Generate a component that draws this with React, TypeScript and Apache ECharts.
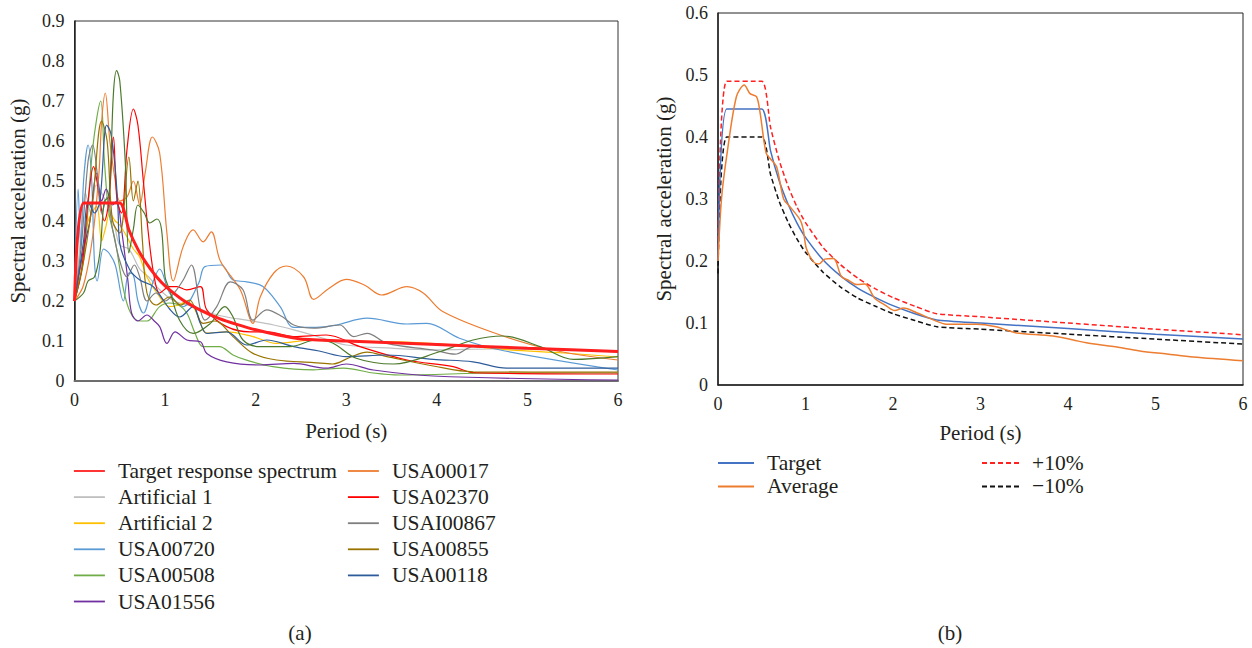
import React, { useEffect, useRef } from "react";
import * as echarts from "echarts";

// ---------- Data ----------
const PERIOD_TARGET = [0, 0.1, 0.5, 0.6, 0.7, 0.8, 0.9, 1.0, 1.2, 1.4, 1.6, 1.8, 2.0, 2.25, 2.5, 3, 4, 5, 6];
const SA_TARGET = [0.2, 0.445, 0.445, 0.378, 0.329, 0.292, 0.262, 0.238, 0.202, 0.176, 0.156, 0.141, 0.128, 0.115, 0.105, 0.1, 0.091, 0.082, 0.074];
const SA_PLUS10 = [0.22, 0.49, 0.49, 0.416, 0.362, 0.321, 0.288, 0.262, 0.222, 0.194, 0.172, 0.155, 0.141, 0.127, 0.115, 0.11, 0.1, 0.09, 0.081];
const SA_MINUS10 = [0.18, 0.4, 0.4, 0.34, 0.296, 0.263, 0.236, 0.214, 0.182, 0.158, 0.14, 0.127, 0.115, 0.104, 0.094, 0.09, 0.082, 0.074, 0.066];

const AVERAGE = [[0,0.2],[0.04,0.3],[0.1,0.37],[0.21,0.465],[0.3,0.484],[0.366,0.47],[0.44,0.465],[0.48,0.44],[0.55,0.374],[0.61,0.363],[0.67,0.352],[0.75,0.3],[0.82,0.288],[0.94,0.266],[0.975,0.25],[1.01,0.22],[1.09,0.199],[1.15,0.195],[1.22,0.203],[1.32,0.204],[1.41,0.175],[1.49,0.169],[1.585,0.162],[1.68,0.163],[1.79,0.14],[1.91,0.129],[2.02,0.12],[2.12,0.124],[2.27,0.1166],[2.46,0.105],[2.61,0.098],[2.96,0.098],[3.18,0.094],[3.3,0.0887],[3.41,0.084],[3.83,0.079],[4.06,0.0726],[4.21,0.068],[4.52,0.062],[4.82,0.055],[5.13,0.05],[5.43,0.045],[6,0.039]];

const ARTIFICIAL_1 = [[0,0.2],[0.07,0.36],[0.12,0.47],[0.18,0.42],[0.24,0.49],[0.3,0.47],[0.38,0.43],[0.45,0.38],[0.5,0.34],[0.6,0.33],[0.72,0.28],[0.82,0.26],[0.94,0.228],[1.1,0.2],[1.31,0.186],[1.5,0.17],[1.68,0.16],[1.9,0.152],[2.2,0.14],[2.42,0.128],[2.7,0.11],[3,0.09],[3.5,0.082],[4,0.078],[4.6,0.08],[5.2,0.079],[6,0.075]];
const ARTIFICIAL_2 = [[0,0.2],[0.08,0.3],[0.15,0.4],[0.245,0.436],[0.3,0.35],[0.34,0.38],[0.39,0.42],[0.45,0.4],[0.5,0.39],[0.58,0.36],[0.65,0.33],[0.72,0.31],[0.8,0.26],[0.91,0.22],[1.05,0.186],[1.15,0.19],[1.24,0.2],[1.35,0.17],[1.46,0.12],[1.68,0.123],[1.97,0.111],[2.23,0.094],[2.64,0.1025],[3,0.1],[3.59,0.098],[4.2,0.09],[4.8,0.078],[5.4,0.07],[6,0.06]];
const USA00720 = [[0,0.2],[0.04,0.48],[0.07,0.33],[0.1,0.5],[0.15,0.59],[0.19,0.5],[0.22,0.3],[0.25,0.25],[0.32,0.33],[0.38,0.32],[0.45,0.29],[0.54,0.2],[0.6,0.27],[0.65,0.265],[0.7,0.2],[0.76,0.17],[0.87,0.25],[0.94,0.28],[1.05,0.22],[1.2,0.186],[1.37,0.244],[1.44,0.286],[1.62,0.29],[1.75,0.2525],[1.9,0.248],[2.08,0.236],[2.27,0.186],[2.42,0.134],[2.67,0.134],[2.89,0.14],[3.23,0.157],[3.67,0.1425],[3.89,0.144],[4.25,0.107],[4.7,0.0775],[6,0.0275]];
const USA00508 = [[0,0.2],[0.1,0.3],[0.2,0.58],[0.29,0.7],[0.33,0.55],[0.38,0.42],[0.45,0.35],[0.54,0.23],[0.62,0.17],[0.72,0.15],[0.8,0.15],[0.94,0.186],[1.05,0.195],[1.15,0.19],[1.24,0.17],[1.33,0.12],[1.42,0.086],[1.6,0.086],[1.75,0.065],[1.9,0.052],[2.19,0.036],[2.64,0.028],[2.97,0.032],[3.3,0.02],[3.59,0.015],[4.7,0.02],[6,0.02]];
const USA01556 = [[0,0.2],[0.1,0.33],[0.17,0.4],[0.245,0.52],[0.3,0.45],[0.35,0.48],[0.42,0.44],[0.465,0.45],[0.52,0.378],[0.59,0.25],[0.63,0.17],[0.7,0.15],[0.8,0.165],[0.88,0.15],[0.94,0.136],[1.02,0.094],[1.11,0.123],[1.24,0.1025],[1.39,0.098],[1.46,0.069],[1.68,0.048],[2.05,0.04],[2.42,0.044],[2.78,0.032],[3,0.0425],[3.3,0.0275],[3.96,0.0125],[6,0.0025]];
const USA00017 = [[0,0.2],[0.1,0.24],[0.2,0.36],[0.27,0.52],[0.3,0.65],[0.34,0.72],[0.39,0.6],[0.45,0.5],[0.5,0.45],[0.58,0.46],[0.65,0.5],[0.72,0.44],[0.78,0.52],[0.86,0.61],[0.94,0.57],[1.02,0.37],[1.09,0.25],[1.2,0.336],[1.31,0.378],[1.42,0.348],[1.51,0.373],[1.61,0.3],[1.83,0.228],[1.97,0.144],[2.05,0.21],[2.2,0.27],[2.34,0.2875],[2.53,0.26],[2.64,0.204],[2.8,0.23],[3,0.254],[3.2,0.24],[3.39,0.215],[3.67,0.236],[3.85,0.22],[4.07,0.173],[4.7,0.115],[5.28,0.0775],[6,0.0525]];
const USA02370 = [[0,0.2],[0.08,0.28],[0.15,0.45],[0.21,0.536],[0.27,0.47],[0.33,0.4],[0.38,0.45],[0.43,0.61],[0.47,0.45],[0.52,0.42],[0.58,0.58],[0.65,0.68],[0.7,0.64],[0.76,0.5],[0.82,0.36],[0.88,0.26],[0.94,0.22],[1.05,0.236],[1.13,0.236],[1.24,0.228],[1.39,0.236],[1.46,0.178],[1.68,0.136],[1.94,0.123],[2.12,0.123],[2.42,0.111],[2.78,0.115],[3.15,0.086],[3.67,0.0525],[4.18,0.036],[4.4,0.021],[6,0.0175]];
const USAI00867 = [[0,0.2],[0.08,0.35],[0.15,0.55],[0.2,0.59],[0.25,0.52],[0.3,0.42],[0.36,0.46],[0.42,0.38],[0.5,0.3],[0.58,0.26],[0.66,0.29],[0.72,0.26],[0.8,0.2],[0.9,0.22],[1,0.2],[1.1,0.22],[1.2,0.2525],[1.29,0.29],[1.39,0.178],[1.44,0.152],[1.57,0.186],[1.72,0.248],[1.86,0.228],[1.97,0.152],[2.12,0.178],[2.3,0.16],[2.42,0.14],[2.64,0.132],[2.93,0.14],[3.08,0.111],[3.23,0.119],[3.45,0.094],[3.96,0.0775],[4.2,0.067],[4.4,0.086],[5.06,0.082],[6,0.073]];
const USA00855 = [[0,0.2],[0.1,0.3],[0.2,0.45],[0.3,0.65],[0.36,0.6],[0.42,0.4],[0.5,0.37],[0.6,0.56],[0.65,0.45],[0.7,0.5],[0.75,0.35],[0.8,0.22],[0.9,0.19],[1.05,0.21],[1.17,0.19],[1.27,0.2025],[1.42,0.144],[1.55,0.15],[1.75,0.111],[1.97,0.069],[2.23,0.0525],[2.64,0.046],[2.85,0.0425],[3.05,0.06],[3.23,0.072],[3.45,0.061],[3.96,0.0375],[4.4,0.023],[6,0.022]];
const USA00118 = [[0,0.2],[0.1,0.35],[0.15,0.45],[0.22,0.42],[0.28,0.45],[0.355,0.64],[0.4,0.62],[0.45,0.53],[0.48,0.43],[0.5,0.344],[0.61,0.278],[0.72,0.2525],[0.87,0.236],[1.05,0.18],[1.16,0.16],[1.31,0.186],[1.39,0.144],[1.46,0.119],[1.68,0.123],[1.9,0.09],[2.12,0.1025],[2.42,0.086],[2.7,0.075],[3,0.061],[3.45,0.065],[3.96,0.054],[4.4,0.048],[4.77,0.032],[6,0.032]];
const RECORD_12 = [[0,0.2],[0.1,0.22],[0.15,0.25],[0.22,0.26],[0.28,0.32],[0.33,0.45],[0.38,0.46],[0.43,0.72],[0.465,0.776],[0.5,0.75],[0.56,0.55],[0.6,0.32],[0.65,0.38],[0.7,0.44],[0.77,0.42],[0.83,0.395],[0.91,0.405],[0.96,0.38],[1,0.26],[1.05,0.228],[1.16,0.152],[1.31,0.119],[1.5,0.144],[1.66,0.186],[1.75,0.16],[1.86,0.1025],[2.05,0.086],[2.38,0.086],[2.67,0.1025],[2.85,0.095],[3.11,0.057],[3.52,0.0425],[4.03,0.073],[4.4,0.1025],[4.73,0.1125],[5.14,0.086],[5.51,0.054],[6,0.061]];

const LEGEND_COL1 = ["Target response spectrum", "Artificial 1", "Artificial 2", "USA00720", "USA00508", "USA01556"];
const LEGEND_COL2 = ["USA00017", "USA02370", "USAI00867", "USA00855", "USA00118"];

const FONT = "Liberation Serif";
const TXT = "#231f20";

const pair = (xs: number[], ys: number[]) => xs.map((x, i) => [x, ys[i]]);

export default function App() {
  const ref = useRef<HTMLDivElement>(null);
  useEffect(() => {
    if (!ref.current) return;
    const chart = echarts.init(ref.current, undefined, { renderer: "svg" });

    const rec = (name: string, data: number[][], color: string) => ({
      name,
      type: "line",
      xAxisIndex: 0,
      yAxisIndex: 0,
      data,
      symbol: "none",
      smooth: 0.35,
      lineStyle: { color, width: 1.2 },
      itemStyle: { color },
      z: 2,
    });

    const tickFmt = (v: number) => (v === 0 ? "0" : String(Math.round(v * 10) / 10));

    const axisLabel = { fontFamily: FONT, fontSize: 18, color: TXT, margin: 10 };
    const nameStyle = { fontFamily: FONT, fontSize: 21, color: TXT };

    const legendBase = {
      orient: "vertical",
      icon: "inherit",
      itemHeight: 14,
      padding: 0,
      itemStyle: { opacity: 0 },
      textStyle: { fontFamily: FONT, fontSize: 21.5, color: TXT, lineHeight: 20, padding: [0, 0, 0, 8] },
      selectedMode: false,
    };

    chart.setOption({
      animation: false,
      backgroundColor: "#fff",
      textStyle: { fontFamily: FONT },
      grid: [
        { left: 74.5, top: 21, width: 543.5, height: 360, show: true, borderColor: "#333", borderWidth: 1 },
        { left: 718, top: 13, width: 525, height: 372, show: true, borderColor: "#222", borderWidth: 1 },
      ],
      xAxis: [
        {
          gridIndex: 0, type: "value", min: 0, max: 6, interval: 1,
          axisLine: { lineStyle: { color: "#6d6d6d", width: 2 } }, axisTick: { show: false }, splitLine: { show: false },
          axisLabel, name: "Period (s)", nameLocation: "middle", nameGap: 39, nameTextStyle: nameStyle,
        },
        {
          gridIndex: 1, type: "value", min: 0, max: 6, interval: 1,
          axisLine: { lineStyle: { color: "#222", width: 1.5 } }, axisTick: { show: false }, splitLine: { show: false },
          axisLabel, name: "Period (s)", nameLocation: "middle", nameGap: 37, nameTextStyle: nameStyle,
        },
      ],
      yAxis: [
        {
          gridIndex: 0, type: "value", min: 0, max: 0.9, interval: 0.1,
          axisLine: { show: true, lineStyle: { color: "#222", width: 1.5 } }, axisTick: { show: false }, splitLine: { show: false },
          axisLabel: { ...axisLabel, formatter: tickFmt }, name: "Spectral acceleration (g)", nameLocation: "middle", nameGap: 46, nameTextStyle: nameStyle,
        },
        {
          gridIndex: 1, type: "value", min: 0, max: 0.6, interval: 0.1,
          axisLine: { show: true, lineStyle: { color: "#222", width: 1.5 } }, axisTick: { show: false }, splitLine: { show: false },
          axisLabel: { ...axisLabel, formatter: tickFmt }, name: "Spectral acceleration (g)", nameLocation: "middle", nameGap: 44, nameTextStyle: nameStyle,
        },
      ],
      legend: [
        { ...legendBase, left: 73, top: 460, itemWidth: 31, itemGap: 4.1, lineStyle: { width: 1.8 }, data: LEGEND_COL1 },
        { ...legendBase, left: 347, top: 460, itemWidth: 31, itemGap: 4.1, lineStyle: { width: 1.8 }, data: LEGEND_COL2 },
        { ...legendBase, left: 717, top: 452, itemWidth: 36, itemGap: 1.4, data: ["Target", "Average"] },
        { ...legendBase, left: 981, top: 452, itemWidth: 37, itemGap: 1.4, data: ["+10%", "\u221210%"] },
      ],
      graphic: [
        { type: "text", x: 300, y: 633, style: { text: "(a)", fontFamily: FONT, fontSize: 21, fill: TXT, align: "center", verticalAlign: "middle" } },
        { type: "text", x: 950, y: 633, style: { text: "(b)", fontFamily: FONT, fontSize: 21, fill: TXT, align: "center", verticalAlign: "middle" } },
      ],
      series: [
        rec("Artificial 1", ARTIFICIAL_1, "#bfbfbf"),
        rec("Artificial 2", ARTIFICIAL_2, "#ffc000"),
        rec("USA00720", USA00720, "#5b9bd5"),
        rec("USA00508", USA00508, "#70ad47"),
        rec("USA01556", USA01556, "#7030a0"),
        rec("USA00017", USA00017, "#ed7d31"),
        rec("USA02370", USA02370, "#ff0000"),
        rec("USAI00867", USAI00867, "#7f7f7f"),
        rec("USA00855", USA00855, "#997300"),
        rec("USA00118", USA00118, "#2e5c9a"),
        rec("Record 12", RECORD_12, "#4c7a2c"),
        {
          name: "Target response spectrum", type: "line", xAxisIndex: 0, yAxisIndex: 0,
          data: pair(PERIOD_TARGET, SA_TARGET), symbol: "none", smooth: 0.2,
          lineStyle: { color: "#ff1f1f", width: 3 }, itemStyle: { color: "#ff1f1f" }, z: 5,
        },
        {
          name: "+10%", type: "line", xAxisIndex: 1, yAxisIndex: 1,
          data: pair(PERIOD_TARGET, SA_PLUS10), symbol: "none", smooth: 0.2,
          lineStyle: { color: "#ff2020", width: 1.5, type: [5, 3] }, itemStyle: { color: "#ff2020" },
        },
        {
          name: "\u221210%", type: "line", xAxisIndex: 1, yAxisIndex: 1,
          data: pair(PERIOD_TARGET, SA_MINUS10), symbol: "none", smooth: 0.2,
          lineStyle: { color: "#111", width: 1.5, type: [5, 3] }, itemStyle: { color: "#111" },
        },
        {
          name: "Target", type: "line", xAxisIndex: 1, yAxisIndex: 1,
          data: pair(PERIOD_TARGET, SA_TARGET), symbol: "none", smooth: 0.2,
          lineStyle: { color: "#4472c4", width: 1.5 }, itemStyle: { color: "#4472c4" },
        },
        {
          name: "Average", type: "line", xAxisIndex: 1, yAxisIndex: 1,
          data: AVERAGE, symbol: "none", smooth: 0.3,
          lineStyle: { color: "#ed7d31", width: 1.5 }, itemStyle: { color: "#ed7d31" },
        },
      ],
    });
    return () => chart.dispose();
  }, []);
  return <div ref={ref} style={{ position: "absolute", left: 0, top: 0, width: 1252, height: 648 }} />;
}
